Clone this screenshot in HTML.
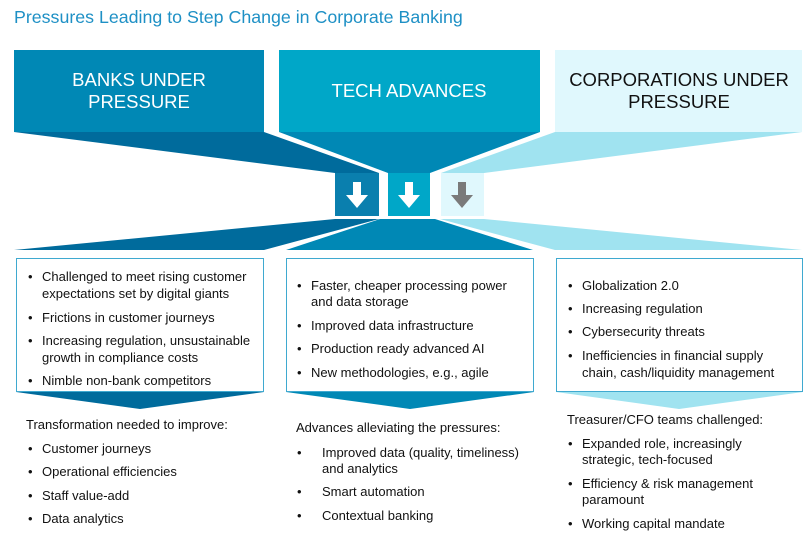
<!DOCTYPE html>
<html><head><meta charset="utf-8"><style>
body{margin:0;background:#fff;width:811px;height:548px;overflow:hidden}
svg{display:block}
text{font-family:"Liberation Sans",Arial,sans-serif}
.b{font-size:13px;fill:#111}
</style></head><body>
<svg width="811" height="548" viewBox="0 0 811 548">
<text x="14" y="23" font-size="17.8" fill="#1e90c5">Pressures Leading to Step Change in Corporate Banking</text>
<rect x="14" y="50" width="250" height="82" fill="#0088b5"/>
<rect x="279" y="50" width="261" height="82" fill="#00a7c8"/>
<rect x="555" y="50" width="247" height="82" fill="#e0f8fd"/>
<polygon points="14,132 264,132 379,173 335,173" fill="#006b9c"/>
<polygon points="279,132 540,132 430,173 388,173" fill="#0088b5"/>
<polygon points="555,132 802,132 484,173 441,173" fill="#a0e3f0"/>
<rect x="335" y="173" width="44" height="43" fill="#0a7fae"/>
<rect x="388" y="173" width="42" height="43" fill="#00a7c8"/>
<rect x="441" y="173" width="43" height="43" fill="#e0f8fd"/>
<polygon points="353,182 361,182 361,195 368,195 357,208 346,195 353,195" fill="#fff"/>
<polygon points="405,182 413,182 413,195 420,195 409,208 398,195 405,195" fill="#fff"/>
<polygon points="458,182 466,182 466,195 473,195 462,208 451,195 458,195" fill="#7a7a7a"/>
<polygon points="335,219 379,219 264,250 14,250" fill="#006b9c"/>
<polygon points="380,219 435,219 533,250 286,250" fill="#0088b5"/>
<polygon points="440,219 484,219 802,250 555,250" fill="#a0e3f0"/>
<rect x="16.5" y="258.5" width="247" height="133" fill="#fff" stroke="#3fa9d0" stroke-width="1"/>
<rect x="286.5" y="258.5" width="247" height="133" fill="#fff" stroke="#3fa9d0" stroke-width="1"/>
<rect x="556.5" y="258.5" width="246" height="133" fill="#fff" stroke="#3fa9d0" stroke-width="1"/>
<polygon points="16,392 264,392 140,409" fill="#006b9c"/>
<polygon points="286,392 534,392 410,409" fill="#0088b5"/>
<polygon points="556,392 803,392 679,409" fill="#a0e3f0"/>
<text x="139" y="86" font-size="18.5" fill="#fff" text-anchor="middle">BANKS UNDER</text>
<text x="139" y="108" font-size="18.5" fill="#fff" text-anchor="middle">PRESSURE</text>
<text x="409" y="97" font-size="18.5" fill="#fff" text-anchor="middle">TECH ADVANCES</text>
<text x="679" y="86" font-size="18.5" fill="#111" text-anchor="middle">CORPORATIONS UNDER</text>
<text x="679" y="108" font-size="18.5" fill="#111" text-anchor="middle">PRESSURE</text>
<g class="b">
<text x="28" y="281">•</text><text x="42" y="281">Challenged to meet rising customer</text>
<text x="42" y="298">expectations set by digital giants</text>
<text x="28" y="322">•</text><text x="42" y="322">Frictions in customer journeys</text>
<text x="28" y="345">•</text><text x="42" y="345">Increasing regulation, unsustainable</text>
<text x="42" y="362">growth in compliance costs</text>
<text x="28" y="385">•</text><text x="42" y="385">Nimble non-bank competitors</text>
<text x="297" y="290">•</text><text x="311" y="290">Faster, cheaper processing power</text>
<text x="311" y="306">and data storage</text>
<text x="297" y="330">•</text><text x="311" y="330">Improved data infrastructure</text>
<text x="297" y="353">•</text><text x="311" y="353">Production ready advanced AI</text>
<text x="297" y="377">•</text><text x="311" y="377">New methodologies, e.g., agile</text>
<text x="568" y="290">•</text><text x="582" y="290">Globalization 2.0</text>
<text x="568" y="313">•</text><text x="582" y="313">Increasing regulation</text>
<text x="568" y="336">•</text><text x="582" y="336">Cybersecurity threats</text>
<text x="568" y="360">•</text><text x="582" y="360">Inefficiencies in financial supply</text>
<text x="582" y="377">chain, cash/liquidity management</text>
<text x="26" y="429">Transformation needed to improve:</text>
<text x="28" y="453">•</text><text x="42" y="453">Customer journeys</text>
<text x="28" y="476">•</text><text x="42" y="476">Operational efficiencies</text>
<text x="28" y="500">•</text><text x="42" y="500">Staff value-add</text>
<text x="28" y="523">•</text><text x="42" y="523">Data analytics</text>
<text x="296" y="432">Advances alleviating the pressures:</text>
<text x="297" y="457">•</text><text x="322" y="457">Improved data (quality, timeliness)</text>
<text x="322" y="473">and analytics</text>
<text x="297" y="496">•</text><text x="322" y="496">Smart automation</text>
<text x="297" y="520">•</text><text x="322" y="520">Contextual banking</text>
<text x="567" y="424">Treasurer/CFO teams challenged:</text>
<text x="568" y="448">•</text><text x="582" y="448">Expanded role, increasingly</text>
<text x="582" y="464">strategic, tech-focused</text>
<text x="568" y="488">•</text><text x="582" y="488">Efficiency &amp; risk management</text>
<text x="582" y="504">paramount</text>
<text x="568" y="528">•</text><text x="582" y="528">Working capital mandate</text>
</g>
</svg>
</body></html>
